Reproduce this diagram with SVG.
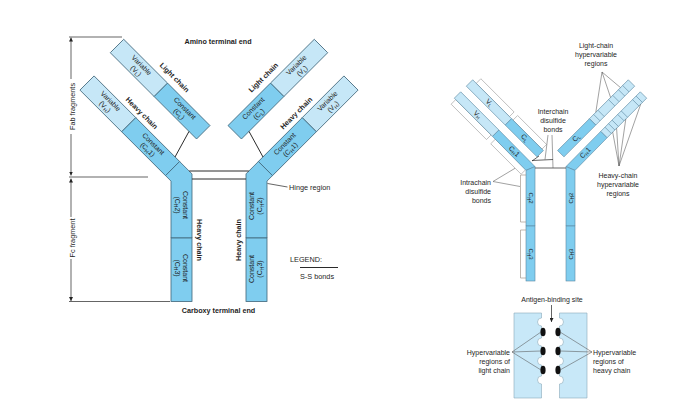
<svg xmlns="http://www.w3.org/2000/svg" width="685" height="419" viewBox="0 0 685 419">
<defs>
<style>
text{font-family:"Liberation Sans",Arial,sans-serif;fill:#1e1e1e;font-size:7px}
.m{text-anchor:middle}
.e{text-anchor:end}
.b{font-weight:bold;font-size:7.2px}
.lb{font-size:7.3px}
.s6{font-size:6px}
.box{stroke:#3f6478;stroke-width:0.8}
.var{fill:#c6e7f7}
.con{fill:#7fcdef}
.thin{stroke:#5b86a0;stroke-width:0.6}
.brk{fill:#fff;stroke:#9c9c9c;stroke-width:0.6}
.brl{fill:none;stroke:#a39a8e;stroke-width:0.7}
.ln{stroke:#222;stroke-width:0.7;fill:none}
.ss{stroke:#2a2a2a;stroke-width:1;fill:none}
.ld{stroke:#555;stroke-width:0.55;fill:none}
.blk{fill:#c8e8f8;stroke:#8aaabb;stroke-width:0.6}
</style>
<marker id="ah" viewBox="0 0 6 6" refX="6" refY="3" markerWidth="4" markerHeight="4" markerUnits="userSpaceOnUse" orient="auto-start-reverse"><path d="M0,0L6,3L0,6Z" fill="#222"/></marker>
</defs>
<rect width="685" height="419" fill="#fff"/>

<!-- ========== LEFT DIAGRAM ========== -->
<g id="left-heavy-chain">
  <g transform="translate(87,83) rotate(45)">
    <rect class="box var" x="0" y="-10" width="59" height="20"/>
    <rect class="box con" x="59" y="-10" width="62" height="20"/>
  </g>
  <polygon class="box con" points="179.6,161.5 192,173.9 192,238 171,238 171,181.1 165.5,175.6"/>
  <rect class="box con" x="171" y="238" width="21" height="63.5"/>
</g>
<g id="right-heavy-chain">
  <g transform="translate(438,0) scale(-1,1)">
    <g transform="translate(87,83) rotate(45)">
      <rect class="box var" x="0" y="-10" width="59" height="20"/>
      <rect class="box con" x="59" y="-10" width="62" height="20"/>
    </g>
    <polygon class="box con" points="179.6,161.5 192,173.9 192,238 171,238 171,181.1 165.5,175.6"/>
    <rect class="box con" x="171" y="238" width="21" height="63.5"/>
  </g>
</g>
<g id="left-light-chain">
  <g transform="translate(117,46) rotate(45)">
    <rect class="box var" x="0" y="-9.5" width="62" height="19"/>
    <rect class="box con" x="62" y="-9.5" width="60" height="19"/>
  </g>
</g>
<g id="right-light-chain">
  <g transform="translate(438,0) scale(-1,1)">
    <g transform="translate(117,46) rotate(45)">
      <rect class="box var" x="0" y="-9.5" width="62" height="19"/>
      <rect class="box con" x="62" y="-9.5" width="60" height="19"/>
    </g>
  </g>
</g>

<g id="left-connectors">
  <line class="ss" x1="189" y1="131.4" x2="175" y2="157"/>
  <line class="ss" x1="249" y1="131.4" x2="263" y2="157"/>
  <line class="ss" x1="189.2" y1="171" x2="248.8" y2="171"/>
  <line class="ss" x1="192" y1="179" x2="246" y2="179"/>
  <line class="ln" x1="267.5" y1="183.5" x2="287.5" y2="187"/>
  <line class="ln" x1="69" y1="37" x2="122" y2="37"/>
  <line class="ln" x1="69" y1="177" x2="148" y2="177"/>
  <line class="ln" x1="69" y1="301.5" x2="170" y2="301.5"/>
  <line class="ln" x1="71" y1="37.5" x2="71" y2="79" marker-start="url(#ah)"/>
  <line class="ln" x1="71" y1="134" x2="71" y2="175.5" marker-end="url(#ah)"/>
  <line class="ln" x1="71" y1="178.5" x2="71" y2="217" marker-start="url(#ah)"/>
  <line class="ln" x1="71" y1="259" x2="71" y2="301" marker-end="url(#ah)"/>
  <line class="ss" x1="300" y1="267.5" x2="338" y2="267.5"/>
</g>

<g id="left-labels">
  <text class="b m" x="218" y="43.5">Amino terminal end</text>
  <text class="b m" x="218.5" y="312.5">Carboxy terminal end</text>
  <text class="lb m" transform="translate(74.5,106.5) rotate(-90)">Fab fragments</text>
  <text class="lb m" transform="translate(74.5,238) rotate(-90)">Fc fragment</text>
  <text class="lb" x="289" y="189.5">Hinge region</text>
  <text class="lb" x="290" y="262">LEGEND:</text>
  <text class="lb" x="300" y="278.5">S-S bonds</text>
  <g class="m" transform="translate(87,83) rotate(45)">
    <text x="29.5" y="-1.5">Variable</text>
    <text x="29.5" y="6.5">(V<tspan dy="1.5" font-size="5">H</tspan><tspan dy="-1.5">)</tspan></text>
    <text x="90" y="-1.5">Constant</text>
    <text x="90" y="6.5">(C<tspan dy="1.5" font-size="5">H</tspan><tspan dy="-1.5">1)</tspan></text>
    <text class="b" x="60" y="-15">Heavy chain</text>
  </g>
  <g class="m" transform="translate(117,46) rotate(45)">
    <text x="31" y="-1.5">Variable</text>
    <text x="31" y="6.5">(V<tspan dy="1.5" font-size="5">L</tspan><tspan dy="-1.5">)</tspan></text>
    <text x="92" y="-1.5">Constant</text>
    <text x="92" y="6.5">(C<tspan dy="1.5" font-size="5">L</tspan><tspan dy="-1.5">)</tspan></text>
    <text class="b" x="63" y="-16">Light chain</text>
  </g>
  <g class="m" transform="translate(351,83) rotate(-45)">
    <text x="-29.5" y="-1.5">Variable</text>
    <text x="-29.5" y="6.5">(V<tspan dy="1.5" font-size="5">H</tspan><tspan dy="-1.5">)</tspan></text>
    <text x="-90" y="-1.5">Constant</text>
    <text x="-90" y="6.5">(C<tspan dy="1.5" font-size="5">H</tspan><tspan dy="-1.5">1)</tspan></text>
    <text class="b" x="-60" y="-15">Heavy chain</text>
  </g>
  <g class="m" transform="translate(321,46) rotate(-45)">
    <text x="-31" y="-1.5">Variable</text>
    <text x="-31" y="6.5">(V<tspan dy="1.5" font-size="5">L</tspan><tspan dy="-1.5">)</tspan></text>
    <text x="-92" y="-1.5">Constant</text>
    <text x="-92" y="6.5">(C<tspan dy="1.5" font-size="5">L</tspan><tspan dy="-1.5">)</tspan></text>
    <text class="b" x="-63" y="-16">Light chain</text>
  </g>
  <g class="m" transform="translate(181.5,205) rotate(90)">
    <text y="-1.5">Constant</text>
    <text y="6.5">(C<tspan dy="1.5" font-size="5">H</tspan><tspan dy="-1.5">2)</tspan></text>
  </g>
  <g class="m" transform="translate(181.5,268) rotate(90)">
    <text y="-1.5">Constant</text>
    <text y="6.5">(C<tspan dy="1.5" font-size="5">H</tspan><tspan dy="-1.5">3)</tspan></text>
  </g>
  <g class="m" transform="translate(256.5,206) rotate(-90)">
    <text y="-3">Constant</text>
    <text y="5.5">(C<tspan dy="1.5" font-size="5">H</tspan><tspan dy="-1.5">2)</tspan></text>
  </g>
  <g class="m" transform="translate(256.5,269) rotate(-90)">
    <text y="-3">Constant</text>
    <text y="5.5">(C<tspan dy="1.5" font-size="5">H</tspan><tspan dy="-1.5">3)</tspan></text>
  </g>
  <text class="b m" transform="translate(196.5,240) rotate(90)">Heavy chain</text>
  <text class="b m" transform="translate(240.5,240) rotate(-90)">Heavy chain</text>
</g>

<!-- ========== RIGHT TOP DIAGRAM ========== -->
<g id="r-left-heavy">
  <g transform="translate(457.5,95) rotate(45)">
    <rect class="brk" x="2" y="4.5" width="50" height="6.5"/>
    <rect class="brk" x="58" y="4.5" width="43" height="6.5"/>
    <rect class="thin var" x="0" y="-4.5" width="54" height="9"/>
  </g>
  <polygon class="thin con" points="498.9,130 535,166.6 526,170.4 492.5,136.4"/>
  <polygon class="thin con" points="535,166.6 535,226 526,226 526,170.4"/>
  <rect class="thin con" x="526" y="226" width="9" height="55"/>
  <path class="brl" d="M526,175H520.5V222H526M526,230H520.5V278H526"/>
</g>
<g id="r-left-light">
  <g transform="translate(457.5,95) rotate(45)">
    <rect class="brk" x="5" y="-28" width="47" height="6.5"/>
    <rect class="brk" x="57" y="-28" width="41" height="6.5"/>
    <rect class="thin var" x="0" y="-21.5" width="55" height="9"/>
    <rect class="thin con" x="55" y="-21.5" width="45" height="9"/>
  </g>
</g>
<g id="r-right-heavy">
  <g transform="translate(1101,0) scale(-1,1)">
    <g transform="translate(457.5,95) rotate(45)">
      <rect class="thin var" x="0" y="-4.5" width="56" height="9"/>
      <path class="thin" d="M6,-4.5V4.5M11,-4.5V4.5M27,-4.5V4.5M32,-4.5V4.5M40,-4.5V4.5M45,-4.5V4.5M50,-4.5V4.5"/>
    </g>
    <polygon class="thin con" points="500.3,131.4 535,166.6 526,170.4 493.9,137.8"/>
    <polygon class="thin con" points="535,166.6 535,226 526,226 526,170.4"/>
    <rect class="thin con" x="526" y="226" width="9" height="55"/>
  </g>
</g>
<g id="r-right-light">
  <g transform="translate(1101,0) scale(-1,1)">
    <g transform="translate(457.5,95) rotate(45)">
      <rect class="thin var" x="0" y="-21.5" width="55" height="9"/>
      <path class="thin" d="M8,-21.5V-12.5M14,-21.5V-12.5M22,-21.5V-12.5M28,-21.5V-12.5M43,-21.5V-12.5M49,-21.5V-12.5"/>
      <rect class="thin con" x="55" y="-21.5" width="45" height="9"/>
    </g>
  </g>
</g>

<g id="r-connectors">
  <line class="ln" x1="539" y1="156" x2="532" y2="161"/>
  <line class="ln" x1="532" y1="160.5" x2="553" y2="159.5"/>
  <line class="ln" x1="535" y1="168" x2="566" y2="168"/>
  <line class="ld" x1="548" y1="135" x2="545" y2="159.5"/>
  <line class="ld" x1="552" y1="135" x2="553" y2="168"/>
  <path class="ld" d="M493,181.5L515,168.3M493,181.5L520,186.5"/>
  <path class="ld" d="M602,72L620.5,87.6M602,72L610.6,97.5M602,72L595.8,112.3"/>
  <path class="ld" d="M619,166L640.7,104.2M619,166L625.8,119M619,166L616.6,128.2M619,166L612.7,132.1"/>
</g>

<g id="r-labels">
  <g class="s6 m" transform="translate(457.5,95) rotate(45)">
    <text x="28" y="-15">V<tspan dy="1.2" font-size="4.5">L</tspan></text>
    <text x="78" y="-15">C<tspan dy="1.2" font-size="4.5">L</tspan></text>
    <text x="28" y="2">V<tspan dy="1.2" font-size="4.5">H</tspan></text>
    <text x="80" y="2">C<tspan dy="1.2" font-size="4.5">H</tspan><tspan dy="-1.2">1</tspan></text>
  </g>
  <g class="s6 m" transform="translate(643.5,95) rotate(-45)">
    <text x="-78" y="-15">C<tspan dy="1.2" font-size="4.5">L</tspan></text>
    <text x="-82" y="2">C<tspan dy="1.2" font-size="4.5">H</tspan><tspan dy="-1.2">1</tspan></text>
  </g>
  <text class="s6 m" transform="translate(530.5,198) rotate(90)" y="2">C<tspan dy="1.2" font-size="4.5">H</tspan><tspan dy="-1.2">2</tspan></text>
  <text class="s6 m" transform="translate(530.5,254) rotate(90)" y="2">C<tspan dy="1.2" font-size="4.5">H</tspan><tspan dy="-1.2">3</tspan></text>
  <text class="s6 m" transform="translate(570.5,198) rotate(-90)" y="2">C<tspan dy="1.2" font-size="4.5">H</tspan><tspan dy="-1.2">2</tspan></text>
  <text class="s6 m" transform="translate(570.5,254) rotate(-90)" y="2">C<tspan dy="1.2" font-size="4.5">H</tspan><tspan dy="-1.2">3</tspan></text>
  <g class="m">
    <text x="596" y="47.5">Light-chain</text>
    <text x="596" y="56.5">hypervariable</text>
    <text x="596" y="65.5">regions</text>
    <text x="553" y="114">Interchain</text>
    <text x="553" y="123">disulfide</text>
    <text x="553" y="132">bonds</text>
    <text x="618" y="177.5">Heavy-chain</text>
    <text x="618" y="186.5">hypervariable</text>
    <text x="618" y="195.5">regions</text>
  </g>
  <g class="e">
    <text x="491" y="184.5">Intrachain</text>
    <text x="491" y="193.5">disulfide</text>
    <text x="491" y="202.5">bonds</text>
  </g>
</g>

<!-- ========== RIGHT BOTTOM DIAGRAM ========== -->
<g id="binding-site">
  <path class="blk" d="M514,313H541.5V318A4,4 0 0 0 541.5,326V338A4,4 0 0 0 541.5,346V357A4,4 0 0 0 541.5,365V376A4,4 0 0 0 541.5,384V398H514Z"/>
  <path class="blk" d="M587,313H559.5V318A4,4 0 0 1 559.5,326V338A4,4 0 0 1 559.5,346V357A4,4 0 0 1 559.5,365V376A4,4 0 0 1 559.5,384V398H587Z"/>
  <g fill="#111">
    <ellipse cx="543" cy="332" rx="2.6" ry="4.3"/>
    <ellipse cx="543" cy="351" rx="2.6" ry="4.3"/>
    <ellipse cx="543" cy="370" rx="2.6" ry="4.3"/>
    <ellipse cx="558" cy="332" rx="2.6" ry="4.3"/>
    <ellipse cx="558" cy="351" rx="2.6" ry="4.3"/>
    <ellipse cx="558" cy="370" rx="2.6" ry="4.3"/>
  </g>
</g>
<g id="binding-connectors">
  <line class="ln" x1="551.5" y1="305" x2="551.5" y2="322" marker-end="url(#ah)"/>
  <path class="ld" d="M512,352L541,332M512,352L541,351M512,352L541,370"/>
  <path class="ld" d="M592,352L560,332M592,352L560,351M592,352L560,370"/>
</g>
<g id="binding-labels">
  <text class="m" x="552" y="302">Antigen-binding site</text>
  <g class="e">
    <text x="510" y="354.5">Hypervariable</text>
    <text x="510" y="363.5">regions of</text>
    <text x="510" y="372.5">light chain</text>
  </g>
  <text x="593" y="354.5">Hypervariable</text>
  <text x="593" y="363.5">regions of</text>
  <text x="593" y="372.5">heavy chain</text>
</g>
</svg>
